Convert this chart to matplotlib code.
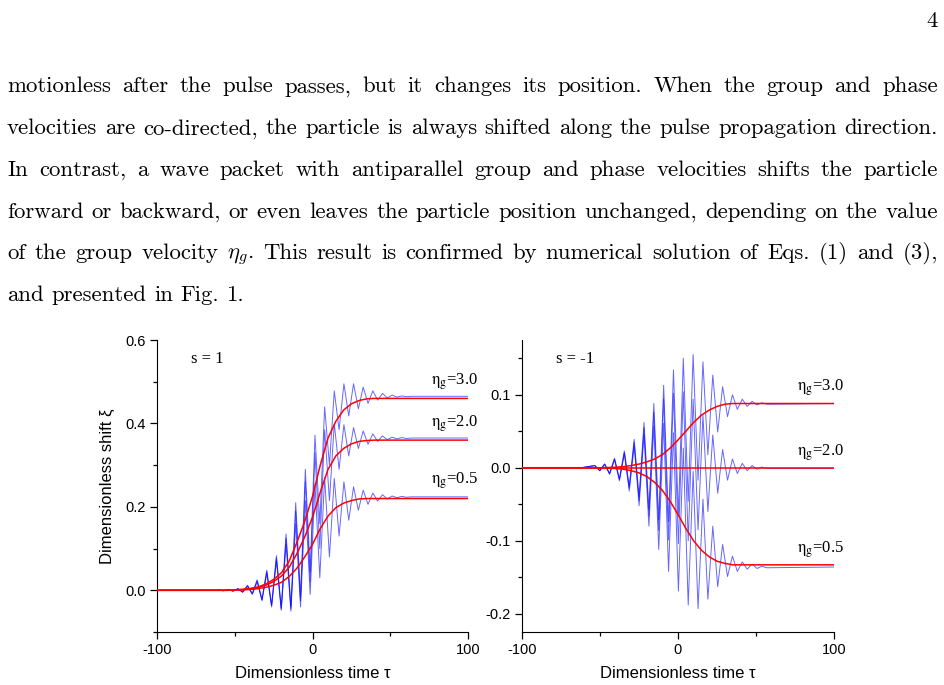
import numpy as np
import matplotlib
matplotlib.use("Agg")
import matplotlib.pyplot as plt
from matplotlib.ticker import FixedLocator, FormatStrFormatter

plt.rcParams['font.family'] = ['Liberation Sans', 'DejaVu Sans']

# ---- texto de la pagina ----
lineas = [
    "motionless after the pulse passes, but it changes its position.  When the group and phase",
    "velocities are co-directed, the particle is always shifted along the pulse propagation direction.",
    "In contrast, a wave packet with antiparallel group and phase velocities shifts the particle",
    "forward or backward, or even leaves the particle position unchanged, depending on the value",
    r"of the group velocity $\eta_g$.  This result is confirmed by numerical solution of Eqs. (1) and (3),",
    "and presented in Fig. 1.",
]
numero_pagina = "4"

# ---- datos ----
# curvas promediadas (rojas), muestreadas en tau_red
tau_red = [-100, -60, -55, -50, -45, -40, -35, -30, -25, -20, -15, -10, -5, 0,
           5, 10, 15, 20, 25, 30, 35, 40, 45, 50, 55, 60, 100]
r1_eta3 = [0, 0, 0, 0.001, 0.002, 0.004, 0.008, 0.015, 0.026, 0.042, 0.070, 0.115, 0.165, 0.225,
           0.300, 0.365, 0.405, 0.432, 0.447, 0.455, 0.459, 0.460, 0.460, 0.460, 0.460, 0.460, 0.460]
r1_eta2 = [0, 0, 0, 0.001, 0.002, 0.004, 0.007, 0.012, 0.021, 0.034, 0.055, 0.088, 0.128, 0.175,
           0.235, 0.290, 0.322, 0.340, 0.351, 0.357, 0.359, 0.360, 0.360, 0.360, 0.360, 0.360, 0.360]
r1_eta05 = [0, 0, 0, 0.0005, 0.001, 0.002, 0.004, 0.007, 0.012, 0.019, 0.033, 0.053, 0.080, 0.110,
            0.148, 0.178, 0.198, 0.209, 0.215, 0.219, 0.220, 0.220, 0.220, 0.220, 0.220, 0.220, 0.220]
r2_eta3 = [0, 0, 0, 0, 0.0003, 0.0007, 0.0015, 0.003, 0.005, 0.008, 0.012, 0.018, 0.027, 0.038,
           0.050, 0.062, 0.072, 0.079, 0.084, 0.087, 0.088, 0.088, 0.088, 0.088, 0.088, 0.088, 0.088]
r2_eta2 = [0.0] * 27
r2_eta05 = [0, 0, 0, 0, -0.0005, -0.001, -0.002, -0.004, -0.007, -0.012, -0.020, -0.031, -0.046, -0.064,
            -0.083, -0.100, -0.113, -0.122, -0.128, -0.131, -0.133, -0.133, -0.133, -0.133, -0.133, -0.133, -0.133]

# curvas oscilantes (azules): maximos y minimos alternos
tau_ext_s1 = 1.6 + 3.1 * np.arange(-20, 21)
b1_eta3 = [0.001, -0.001, 0.002, -0.002, 0.004, -0.004, 0.012, -0.008, 0.025, -0.022, 0.048,
           -0.035, 0.083, -0.042, 0.135, -0.040, 0.210, -0.015, 0.290, 0.045, 0.372, 0.160,
           0.440, 0.300, 0.478, 0.385, 0.495, 0.418, 0.495, 0.435, 0.487, 0.448, 0.478, 0.456,
           0.472, 0.461, 0.468, 0.463, 0.466, 0.464, 0.465]
b1_eta2 = [0.001, -0.001, 0.002, -0.002, 0.004, -0.004, 0.011, -0.008, 0.023, -0.023, 0.045,
           -0.037, 0.078, -0.045, 0.125, -0.045, 0.190, -0.025, 0.260, 0.020, 0.330, 0.100,
           0.385, 0.215, 0.400, 0.290, 0.397, 0.322, 0.390, 0.340, 0.382, 0.350, 0.375, 0.357,
           0.370, 0.361, 0.367, 0.363, 0.366, 0.364, 0.365]
b1_eta05 = [0.001, -0.001, 0.002, -0.002, 0.003, -0.005, 0.009, -0.010, 0.020, -0.025, 0.040,
            -0.040, 0.070, -0.048, 0.110, -0.050, 0.160, -0.040, 0.215, -0.010, 0.255, 0.030,
            0.270, 0.080, 0.268, 0.130, 0.260, 0.168, 0.248, 0.192, 0.240, 0.206, 0.233, 0.214,
            0.229, 0.219, 0.226, 0.222, 0.225, 0.223, 0.224]
final_s1 = [0.465, 0.365, 0.224]

tau_ext_s2 = 3.4 + 3.15 * np.arange(-18, 18)
b2_eta3 = [0.003, -0.004, 0.005, -0.008, 0.013, -0.015, 0.023, -0.025, 0.039, -0.040, 0.062,
           -0.057, 0.088, -0.071, 0.113, -0.074, 0.134, -0.065, 0.150, -0.046, 0.155, -0.017,
           0.145, 0.018, 0.127, 0.049, 0.111, 0.070, 0.100, 0.080, 0.094, 0.084, 0.091, 0.086,
           0.089, 0.087]
b2_eta2 = [0.003, -0.004, 0.005, -0.008, 0.012, -0.016, 0.021, -0.028, 0.035, -0.045, 0.055,
           -0.066, 0.076, -0.086, 0.094, -0.099, 0.102, -0.104, 0.104, -0.100, 0.094, -0.085,
           0.072, -0.060, 0.045, -0.035, 0.025, -0.017, 0.012, -0.008, 0.006, -0.004, 0.003,
           -0.002, 0.001, -0.001]
b2_eta05 = [0.003, -0.004, 0.005, -0.009, 0.011, -0.018, 0.019, -0.032, 0.030, -0.052, 0.045,
            -0.080, 0.057, -0.112, 0.061, -0.142, 0.048, -0.169, 0.027, -0.188, -0.005, -0.193,
            -0.043, -0.180, -0.080, -0.163, -0.105, -0.149, -0.121, -0.142, -0.129, -0.139,
            -0.132, -0.138, -0.135, -0.137]
final_s2 = [0.088, -0.001, -0.136]

etiquetas_eta = ["3.0", "2.0", "0.5"]
pos_etiquetas_s1 = [0.492, 0.392, 0.256]
pos_etiquetas_s2 = [0.106, 0.017, -0.116]

W, H = 944, 685
fig = plt.figure(figsize=(W / 100, H / 100), dpi=100)
renderer = fig.canvas.get_renderer()


def ancho_texto(s, size):
    t = fig.text(0, 0, s, family='cmr10', fontsize=size, math_fontfamily='cm')
    w = t.get_window_extent(renderer).width
    t.remove()
    return w


# ---- texto justificado ----
x_izq, x_der = 7, 938
tam = 14 * 926 / ancho_texto(lineas[1], 14)
base_y = [92.5, 134.3, 176.0, 217.5, 259.3, 301.0]
for i, linea in enumerate(lineas):
    palabras = linea.split()
    anchos = [ancho_texto(p, tam) for p in palabras]
    if i < len(lineas) - 1:
        hueco = (x_der - x_izq - sum(anchos)) / (len(palabras) - 1)
    else:
        hueco = ancho_texto("a b", tam) - ancho_texto("ab", tam)
    x = x_izq
    for p, w in zip(palabras, anchos):
        fig.text(x / W, 1 - base_y[i] / H, p, family='cmr10', fontsize=tam,
                 math_fontfamily='cm', va='baseline', ha='left')
        x += w + hueco
fig.text(x_der / W, 1 - 27 / H, numero_pagina, family='cmr10', fontsize=tam,
         va='baseline', ha='right')

# ---- graficos ----
ax1 = fig.add_axes([157 / W, 1 - 632 / H, 311 / W, 292 / H])
ax2 = fig.add_axes([522 / W, 1 - 632 / H, 312 / W, 292 / H])


def configurar_ejes(ax, ylim, y_may, y_men):
    ax.set_xlim(-100, 100)
    ax.set_ylim(*ylim)
    ax.spines['top'].set_visible(False)
    ax.spines['right'].set_visible(False)
    ax.xaxis.set_major_locator(FixedLocator([-100, 0, 100]))
    ax.xaxis.set_minor_locator(FixedLocator([-50, 50]))
    ax.yaxis.set_major_locator(FixedLocator(y_may))
    ax.yaxis.set_minor_locator(FixedLocator(y_men))
    ax.xaxis.set_major_formatter(FormatStrFormatter('%d'))
    ax.yaxis.set_major_formatter(FormatStrFormatter('%.1f'))
    ax.tick_params(which='major', direction='out', length=5, width=0.9, labelsize=10.5, pad=3)
    ax.tick_params(which='minor', direction='out', length=3, width=0.9)
    ax.set_xlabel("Dimensionless time τ", fontsize=12)
    ax.xaxis.set_label_coords(0.5, -0.115)


def dibujar_panel(ax, tau_ext, azules, finales, rojas, etiquetas, pos_y, texto_s):
    for b, f in zip(azules, finales):
        ax.plot(np.r_[-100, -62, tau_ext, 100], np.r_[0, 0, b, f], color='#0000ff',
                lw=0.7, alpha=0.6, zorder=2)
    for r in rojas:
        ax.plot(tau_red, r, color='#ff0000', lw=1.1, zorder=3)
    for et, y in zip(etiquetas, pos_y):
        ax.text(76, y, r"$\mathrm{\eta_g}$=" + et, family='Liberation Serif',
                math_fontfamily='stix', fontsize=12, ha='left', va='baseline',
                clip_on=False)
    ax.text(0.11, 0.935, texto_s, transform=ax.transAxes, family='Liberation Serif',
            fontsize=12, ha='left', va='center')


configurar_ejes(ax1, (-0.1, 0.6), [0.0, 0.2, 0.4, 0.6], [-0.1, 0.1, 0.3, 0.5])
dibujar_panel(ax1, tau_ext_s1, [b1_eta3, b1_eta2, b1_eta05], final_s1,
              [r1_eta3, r1_eta2, r1_eta05], etiquetas_eta, pos_etiquetas_s1, "s = 1")
ax1.set_ylabel("Dimensionless shift ξ", fontsize=12)
ax1.yaxis.set_label_coords(-0.135, 0.5)

configurar_ejes(ax2, (-0.225, 0.175), [-0.2, -0.1, 0.0, 0.1], [-0.15, -0.05, 0.05, 0.15])
dibujar_panel(ax2, tau_ext_s2, [b2_eta3, b2_eta2, b2_eta05], final_s2,
              [r2_eta3, r2_eta2, r2_eta05], etiquetas_eta, pos_etiquetas_s2, "s = -1")

fig.savefig("out.png", dpi=100)
